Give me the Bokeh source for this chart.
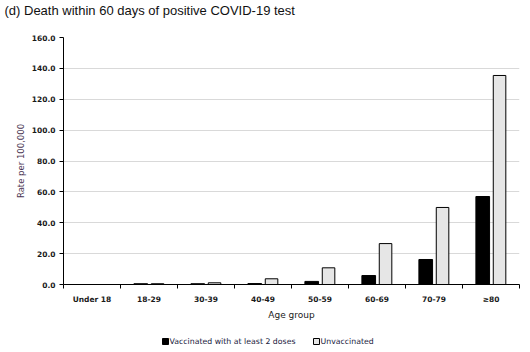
from bokeh.plotting import figure
from bokeh.models import ColumnDataSource, FixedTicker, Range1d, Title
from bokeh.layouts import column
from bokeh.core.properties import value
from bokeh.embed import file_html
from bokeh.resources import INLINE

title_text = "(d) Death within 60 days of positive COVID-19 test"
categories = ["Under 18", "18-29", "30-39", "40-49", "50-59", "60-69", "70-79", "\u226580"]
vaccinated = [0.0, 0.5, 0.5, 0.6, 2.0, 5.8, 16.2, 57.0]
unvaccinated = [0.0, 0.5, 1.1, 3.7, 10.8, 26.5, 49.9, 135.4]
y_ticks = [0, 20, 40, 60, 80, 100, 120, 140, 160]
series_names = ["Vaccinated with at least 2 doses", "Unvaccinated"]

centers = [i + 0.5 for i in range(len(categories))]
boundaries = list(range(len(categories) + 1))

src = ColumnDataSource(dict(
    xv=[c - 0.145 for c in centers],
    xu=[c + 0.15 for c in centers],
    vac=vaccinated,
    unv=unvaccinated,
))

LEFT, RIGHT = 63, 11
W = 530


def strip(h, top=0):
    # column layout aligns this frame with the main frame (LEFT .. W-RIGHT), so use page pixels as data
    f = figure(width=W, height=h, output_backend="svg", toolbar_location=None,
               x_range=Range1d(LEFT, W - RIGHT), y_range=Range1d(0, h),
               x_axis_location=None, y_axis_location=None,
               min_border_left=LEFT, min_border_right=RIGHT, min_border_top=top, min_border_bottom=0)
    f.grid.visible = False
    f.outline_line_color = None
    f.border_fill_color = "white"
    f.background_fill_color = "white"
    return f


ts = strip(24, top=17)
ts.add_layout(Title(text=title_text, text_font="Liberation Sans", text_font_size="13px",
                    text_font_style="normal", text_color="#111111", offset=4 - LEFT, standoff=0), "above")

p = figure(width=W, height=301, output_backend="svg", toolbar_location=None,
           x_range=Range1d(0, len(categories)), y_range=Range1d(0, 160),
           min_border_left=LEFT, min_border_right=RIGHT, min_border_top=13, min_border_bottom=41)
p.outline_line_color = None
p.background_fill_color = "white"
p.border_fill_color = "white"

p.vbar(x="xv", top="vac", width=0.24, source=src, fill_color="black", line_color="black", line_width=1)
p.vbar(x="xu", top="unv", width=0.22, source=src, fill_color="#e6e6e6", line_color="black", line_width=1)

ya = p.yaxis[0]
ya.ticker = FixedTicker(ticks=y_ticks)
ya.major_label_overrides = {v: f"{v:.1f}" for v in y_ticks}
ya.minor_tick_line_color = None
ya.major_tick_in = 0
ya.major_tick_out = 4
ya.axis_line_color = "black"
ya.major_tick_line_color = "black"
ya.major_label_text_font = "DejaVu Sans"
ya.major_label_text_font_style = "bold"
ya.major_label_text_font_size = "7.5px"
ya.major_label_text_color = "#1a1a1a"
ya.major_label_standoff = 4
ya.axis_label = "Rate per 100,000"
ya.axis_label_text_font = "DejaVu Sans"
ya.axis_label_text_font_style = "normal"
ya.axis_label_text_font_size = "8.5px"
ya.axis_label_text_color = "#4a3552"
ya.axis_label_standoff = 3

xa = p.xaxis[0]
xa.ticker = FixedTicker(ticks=centers, minor_ticks=boundaries)
xa.major_label_overrides = {c: cat for c, cat in zip(centers, categories)}
xa.major_tick_in = 0
xa.major_tick_out = 0
xa.minor_tick_in = 0
xa.minor_tick_out = 4
xa.minor_tick_line_color = "black"
xa.axis_line_color = "black"
xa.major_label_text_font = "DejaVu Sans"
xa.major_label_text_font_style = "bold"
xa.major_label_text_font_size = "7.5px"
xa.major_label_text_color = "#1a1a1a"
xa.major_label_standoff = 6
xa.axis_label = "Age group"
xa.axis_label_text_font = "DejaVu Sans"
xa.axis_label_text_font_style = "normal"
xa.axis_label_text_font_size = "9px"
xa.axis_label_text_color = "#1a1a1a"
xa.axis_label_standoff = 3

p.xgrid.grid_line_color = None
p.ygrid.grid_line_color = "#d9d9d9"
p.ygrid.grid_line_width = 1

lg = strip(27)
lg.rect(x=[165, 316], y=[11, 11], width=6, height=6, fill_color=["black", "#e6e6e6"], line_color="black", line_width=1)
lg.text(x=[169, 320], y=[11, 11], text=series_names, text_font=value("DejaVu Sans"), text_font_size="7.8px",
        text_baseline="middle", text_align="left", text_color="#1a1a40")

open("out.html", "w").write(file_html(column(ts, p, lg, spacing=0), INLINE))
